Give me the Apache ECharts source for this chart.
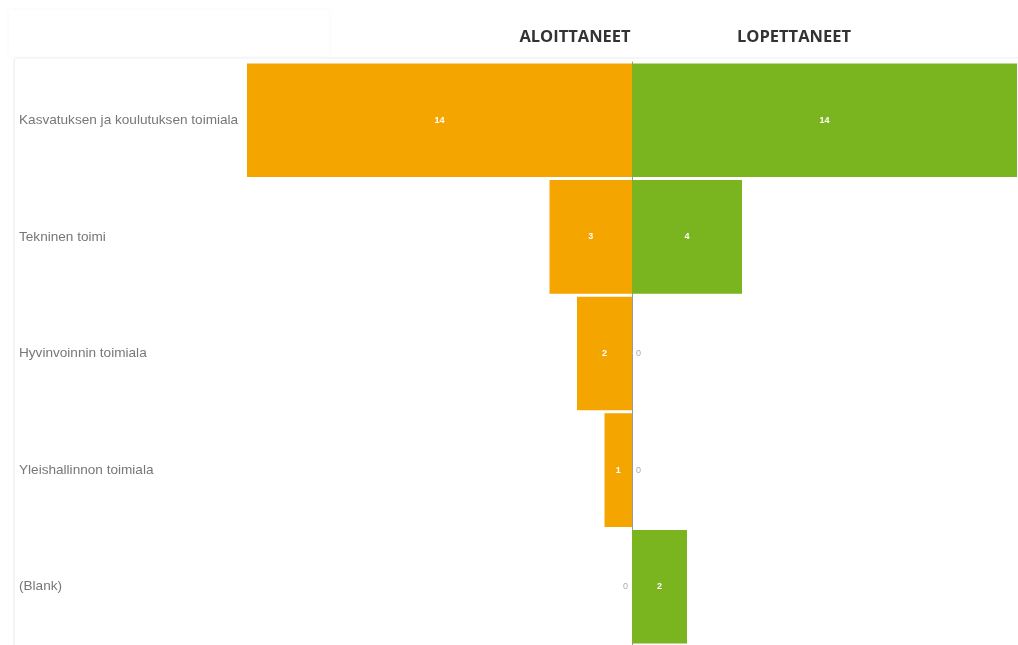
<!DOCTYPE html>
<html>
<head>
<meta charset="utf-8">
<script src="https://cdn.jsdelivr.net/npm/echarts@6/dist/echarts.min.js"></script>
<style>
  html, body { margin: 0; padding: 0; background: #fff; }
  #chart { width: 1018px; height: 645px; }
</style>
</head>
<body>
<div id="chart"></div>
<script>
// toimialat ylhäältä alas
const categories = [
  "Kasvatuksen ja koulutuksen toimiala",
  "Tekninen toimi",
  "Hyvinvoinnin toimiala",
  "Yleishallinnon toimiala",
  "(Blank)"
];
const aloittaneet = [14, 3, 2, 1, 0];
const lopettaneet = [14, 4, 0, 0, 2];
const headers = ["ALOITTANEET", "LOPETTANEET"];

const orange = "#f5a500";
const green = "#7ab51f";

// nollat näytetään harmaana palkin ulkopuolella
function toData(values, side) {
  return values.map(v => {
    if (v !== 0) return v;
    return {
      value: 0,
      label: { position: side, color: "#aaa", fontWeight: "normal", distance: 4 }
    };
  });
}

let myChart = echarts.init(document.getElementById("chart"));
var option = {
  animation: false,
  graphic: [
    // otsikkolaatikon varjo
    { type: "rect", shape: { x: 9, y: 10, width: 320, height: 46 },
      style: { fill: "#fff", shadowBlur: 5, shadowColor: "rgba(0,0,0,0.035)" } },
    { type: "rect", shape: { x: 14, y: 57, width: 1004, height: 2 }, style: { fill: "#f6f6f6" } },
    { type: "rect", shape: { x: 13, y: 59, width: 2, height: 586 }, style: { fill: "#f4f4f4" } },
    { type: "text", x: 575, y: 37, style: { text: headers[0], fill: "#333",
        font: "bold 16.5px 'Open Sans'", textAlign: "center", textVerticalAlign: "middle" } },
    { type: "text", x: 794, y: 37, style: { text: headers[1], fill: "#333",
        font: "bold 16.5px 'Open Sans'", textAlign: "center", textVerticalAlign: "middle" } }
  ],
  grid: [
    { left: 247, width: 385, top: 62, bottom: -4 },
    { left: 632, width: 385, top: 62, bottom: -4 }
  ],
  xAxis: [
    { gridIndex: 0, type: "value", min: 0, max: 14, inverse: true, show: false },
    { gridIndex: 1, type: "value", min: 0, max: 14, show: false }
  ],
  yAxis: [
    {
      gridIndex: 0, type: "category", data: categories, inverse: true,
      axisLine: { show: false }, axisTick: { show: false }, splitLine: { show: false },
      axisLabel: { align: "left", margin: 228, color: "#777", fontSize: 13.6,
        fontFamily: "Liberation Sans" }
    },
    {
      gridIndex: 1, type: "category", data: categories, inverse: true,
      axisLine: { show: true, lineStyle: { color: "#999", width: 1 } },
      axisTick: { show: false }, axisLabel: { show: false }, splitLine: { show: false }
    }
  ],
  series: [
    {
      type: "bar", xAxisIndex: 0, yAxisIndex: 0, data: toData(aloittaneet, "left"),
      barCategoryGap: "2.6%", itemStyle: { color: orange },
      label: { show: true, position: "inside", color: "#fff", fontSize: 9,
        fontWeight: "bold", fontFamily: "Liberation Sans" }
    },
    {
      type: "bar", xAxisIndex: 1, yAxisIndex: 1, data: toData(lopettaneet, "right"),
      barCategoryGap: "2.6%", itemStyle: { color: green },
      label: { show: true, position: "inside", color: "#fff", fontSize: 9,
        fontWeight: "bold", fontFamily: "Liberation Sans" }
    }
  ]
};
myChart.setOption(option);
</script>
</body>
</html>
